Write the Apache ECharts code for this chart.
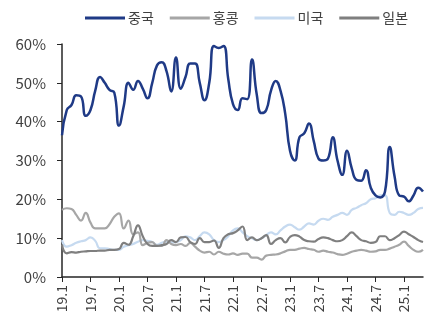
<!DOCTYPE html>
<html>
<head>
<meta charset="utf-8">
<script src="https://cdn.jsdelivr.net/npm/echarts@6/dist/echarts.min.js"></script>
<style>
  html, body { margin: 0; padding: 0; background: #fff; }
  #main { width: 424px; height: 325px; }
</style>
</head>
<body>
<div id="main"></div>
<script>
// months 19.1 .. 25.5
var months = [];
for (var y = 19; y <= 25; y++) {
    for (var m = 1; m <= 12; m++) {
        if (y === 25 && m > 5) break;
        months.push(y + '.' + m);
    }
}

var china = [36.5, 43, 44.3, 46.8, 46.5, 41.5, 43, 48, 51.5, 50,
    48.2, 47.5, 39, 44, 50, 48.2, 50.5, 48.5, 46, 50,
    54.5, 55.3, 53, 47.8, 56.5, 48.5, 51.5, 55, 55, 50,
    45.5, 50, 59.5, 59, 59.5, 51, 44.5, 43, 46, 45.8,
    56, 47, 42.2, 43, 48, 50.5, 48, 42, 32.5, 30,
    36, 37, 39.5, 35, 30.5, 30, 30.5, 36, 30, 26.3,
    32.5, 28, 25, 24.8, 27.5, 23, 21, 20.5, 22, 33.5,
    26, 21, 20.7, 19.5, 21, 23, 22];

var hongkong = [17.3, 17.7, 17.5, 16, 14.5, 16.5, 14, 12.5, 12.5, 12.5,
    13.6, 15.5, 16.4, 12.5, 14.5, 11, 11.5, 8.2, 8.8, 9,
    8, 8, 9.5, 8.5, 8.2, 8.5, 8, 8.8, 7.8, 6.8,
    6.3, 6.5, 5.8, 6.5, 6, 5.8, 6.1, 5.7, 6, 6,
    5, 5, 4.5, 5.5, 5.7, 5.8, 6.1, 6.6, 7, 7,
    7.3, 7.5, 7.2, 7, 6.5, 6.8, 6.5, 6.3, 5.9, 5.7,
    6, 6.5, 6.8, 7, 6.8, 6.5, 6.6, 7, 7, 7.3,
    7.8, 8.3, 9.1, 8, 7, 6.5, 7];

var usa = [9.5, 7.8, 8.2, 8.8, 9.2, 9.5, 10.2, 9.3, 7.4, 7.4,
    7.2, 7, 7, 7.8, 8.2, 8.5, 9.1, 9.5, 9.3, 9,
    8.3, 8.8, 9.1, 8.9, 9, 9.5, 10.5, 10.2, 9.5, 10.5,
    11.5, 11, 9.5, 9, 9.5, 10.5, 12, 12.5, 11.5, 10.5,
    10, 9.5, 10, 10.8, 11.5, 11, 12, 13, 13.5, 12.8,
    12.2, 13, 13.8, 13.5, 14.5, 15, 14.7, 15.5, 16, 16.5,
    16, 17.3, 17.8, 18.5, 19, 20, 20.3, 21, 21, 16.5,
    16, 16.8, 16.5, 16, 16.5, 17.5, 17.8];

var japan = [8.3, 6.1, 6.4, 6.3, 6.5, 6.6, 6.7, 6.7, 6.8, 6.8,
    7, 7, 7.2, 8.8, 8.3, 10.5, 13.3, 10.5, 8.5, 8,
    8, 8.2, 8.5, 9.5, 9, 10.2, 10.3, 9, 8.5, 10,
    9, 9, 9.4, 7.5, 10, 11, 11.3, 12, 13, 9.5,
    10.2, 9.5, 10, 10.8, 8.5, 9.5, 10, 8.9, 10.3, 10.8,
    10.4, 9.5, 9.2, 9.1, 9.8, 10.2, 10, 9.5, 9.2, 9.5,
    10.5, 11.5, 10.5, 9.5, 9.2, 8.8, 9, 10.5, 10.5, 9.5,
    10, 10.8, 11.7, 11, 10.3, 9.5, 9];

var seriesNames = ['중국', '홍콩', '미국', '일본'];
var seriesColors = ['#1f3a86', '#a6a6a6', '#c6daf0', '#7f7f7f'];

var chartDom = document.getElementById('main');
var myChart = echarts.init(chartDom);
var font = 'Noto Sans CJK KR';

function line(name, data, color, width, z) {
    return {
        name: name,
        type: 'line',
        data: data,
        smooth: 0.5,
        symbol: 'none',
        z: z,
        lineStyle: { color: color, width: width },
        itemStyle: { color: color }
    };
}

var option = {
    animation: false,
    textStyle: { fontFamily: font },
    legend: {
        data: seriesNames,
        left: 80,
        top: 6,
        itemWidth: 40,
        itemHeight: 3,
        itemGap: 16,
        icon: 'rect',
        textStyle: { fontFamily: font, fontSize: 14, color: '#404040', padding: [0, 0, 0, -2] }
    },
    grid: {
        left: 62,
        right: 1,
        top: 44,
        bottom: 48,
        containLabel: false
    },
    xAxis: {
        type: 'category',
        data: months,
        boundaryGap: false,
        axisLine: { lineStyle: { color: '#262626', width: 1.5 } },
        axisTick: { interval: 5, length: 5, lineStyle: { color: '#262626' } },
        axisLabel: {
            interval: 5,
            rotate: 90,
            margin: 8,
            fontSize: 14,
            color: '#404040',
            fontFamily: font
        },
        splitLine: { show: false }
    },
    yAxis: {
        type: 'value',
        min: 0,
        max: 60,
        interval: 10,
        axisLine: { show: true, lineStyle: { color: '#262626', width: 1.5 } },
        axisTick: { show: true, length: 5, lineStyle: { color: '#262626' } },
        axisLabel: {
            formatter: '{value}%',
            margin: 16,
            fontSize: 15,
            color: '#404040',
            fontFamily: font
        },
        splitLine: { show: false }
    },
    series: [
        line(seriesNames[0], china, seriesColors[0], 2.5, 5),
        line(seriesNames[1], hongkong, seriesColors[1], 2.2, 3),
        line(seriesNames[2], usa, seriesColors[2], 2.2, 2),
        line(seriesNames[3], japan, seriesColors[3], 2.2, 4)
    ]
};

option && myChart.setOption(option);
</script>
</body>
</html>
